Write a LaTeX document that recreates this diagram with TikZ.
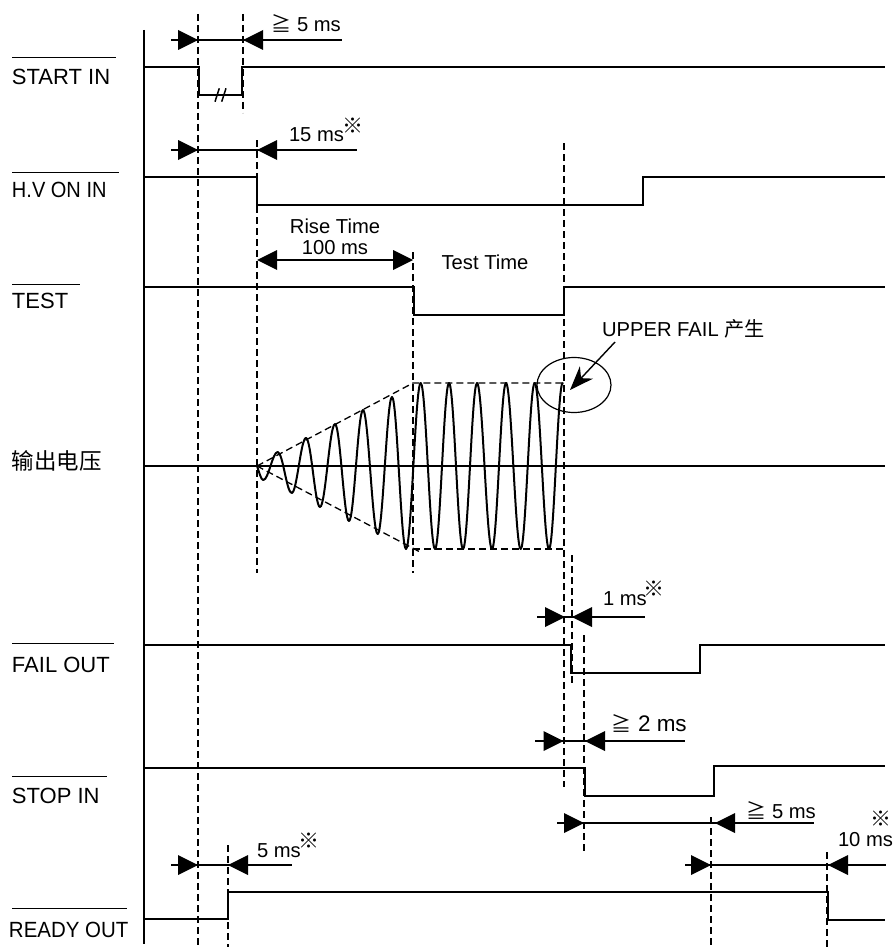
\documentclass[tikz,border=0pt]{standalone}
\usepackage{fontspec}
\setmainfont{Liberation Sans}
\newfontfamily\cjk{Noto Sans CJK SC}
\usetikzlibrary{arrows.meta}
\tikzset{
  signal/.style={line width=2pt,line join=miter},
  axisline/.style={line width=2.4pt},
  guide/.style={line width=1.2pt,dash pattern=on 7pt off 4pt},
  envelope/.style={line width=1.3pt,dash pattern=on 7pt off 4pt},
  dimline/.style={line width=1.6pt},
  tiptri/.style={fill=black,draw=none},
  barline/.style={line width=0.9pt},
  lbl/.style={inner sep=0pt,outer sep=0pt,anchor=base west,font=\fontsize{22}{24}\selectfont},
  small/.style={inner sep=0pt,outer sep=0pt,anchor=base west,font=\fontsize{20.2}{22}\selectfont},
  cmark/.style={inner sep=0pt,outer sep=0pt,anchor=center,font=\cjk\fontsize{21}{23}\selectfont},
}
% inward-pointing dimension row: y, line start, line end, left tip, right tip
\newcommand{\dimrow}[5]{%
  \draw[dimline] (#2,#1) -- (#3,#1);
  \fill[tiptri] (#4,#1) -- ({#4-20},{#1-10}) -- ({#4-20},{#1+10}) -- cycle;
  \fill[tiptri] (#5,#1) -- ({#5+20},{#1-10}) -- ({#5+20},{#1+10}) -- cycle;
}
\begin{document}
\begin{tikzpicture}[x=1pt,y=-1pt]
\useasboundingbox (0,0) rectangle (895,947);

% guides
\draw[guide] (198,14) -- (198,947);
\draw[guide] (243,14) -- (243,113);
\draw[guide] (257,140) -- (257,573);
\draw[guide] (413,252) -- (413,573);
\draw[guide] (564,143) -- (564,787);
\draw[guide] (572,555) -- (572,685);
\draw[guide] (584,635) -- (584,853);
\draw[guide] (228,845) -- (228,947);
\draw[guide] (711,817) -- (711,947);
\draw[guide] (827,852) -- (827,947);

% axis
\draw[axisline] (144,30) -- (144,944);

% signals
\draw[signal] (144,67) -- (199,67) -- (199,95) -- (242,95) -- (242,67) -- (885,67);
\draw[signal] (144,177) -- (257,177) -- (257,205) -- (643,205) -- (643,177) -- (885,177);
\draw[signal] (144,287) -- (414,287) -- (414,315) -- (564,315) -- (564,287) -- (885,287);
\draw[signal] (144,466) -- (885,466);
\draw[signal] (144,645) -- (571,645) -- (571,673) -- (700,673) -- (700,645) -- (885,645);
\draw[signal] (144,768) -- (585,768) -- (585,796) -- (714,796) -- (714,766) -- (885,766);
\draw[signal] (144,919) -- (228,919) -- (228,892) -- (828,892) -- (828,920) -- (885,920);

% break mark
\draw[line width=1.5pt] (215,101.7) -- (219.3,88.3);
\draw[line width=1.5pt] (221.7,101.7) -- (226,88.3);

% envelope
\draw[envelope] (257,466) -- (413,383) -- (564,383);
\draw[envelope] (257,466) -- (420,552);
\draw[envelope] (413,549) -- (564,549);

% output wave
\draw[signal,line cap=round] (257,466) .. controls (259.5,473) and (261,480) .. (263.3,480);
\foreach \x/\y [remember=\x as \px (initially 263.3), remember=\y as \py (initially 480)] in
  {277.7/452,291.7/493,306/438,320/507,335/424,349/521,363/410,377.7/534,392/397,406/549,
   420.7/383,435/549,449/383,463/549,477/383,492/549,506/383,520.7/549,534.7/383,549/549,562.7/383}
  {\draw[signal,line cap=round] (\px,\py) .. controls ({\px+0.3642*(\x-\px)},\py) and ({\x-0.3642*(\x-\px)},\y) .. (\x,\y);}

% dimension rows
\dimrow{40}{171}{342}{198}{243}
\dimrow{150}{171}{357}{198}{257}
\dimrow{617}{537}{645}{565}{572}
\dimrow{741}{535}{685}{563.5}{585}
\dimrow{823}{557}{814}{584}{715}
\dimrow{865}{685}{886}{711}{828}
\dimrow{865}{171}{292}{198}{228}
% rise time (outward)
\draw[dimline] (270,260) -- (400,260);
\fill[tiptri] (257,260) -- (277,250) -- (277,270) -- cycle;
\fill[tiptri] (413,260) -- (393,250) -- (393,270) -- cycle;

% labels on the left
\node[lbl] (startin) at (12,85) {START IN};
\node[lbl] (hvon) at (12,197) {\scalebox{0.91}[1]{H.V ON IN}};
\node[lbl] (test) at (12,308) {TEST};
\node[lbl,font=\cjk\fontsize{22.5}{24}\selectfont] (vout) at (12,469) {输出电压};
\node[lbl] (failout) at (12,672) {FAIL OUT};
\node[lbl] (stopin) at (12,803) {STOP IN};
\node[lbl] (readyout) at (9,937) {\scalebox{0.93}[1]{READY OUT}};
\draw[barline] (12,57) -- (116,57);
\draw[barline] (12,172) -- (119,172);
\draw[barline] (12,284) -- (80,284);
\draw[barline] (12,643) -- (114,643);
\draw[barline] (12,776) -- (107,776);
\draw[barline] (12,908) -- (127,908);

% timing labels
\node[small,font=\cjk\fontsize{20}{22}\selectfont] (ge1) at (271,32) {≧};
\node[small] (t1) at (297,32) {5 ms};
\node[small] (t2) at (289,142) {15 ms};
\node[cmark] (m2) at (353,126) {※};
\node[small,anchor=base] (rise) at (335,233) {Rise Time};
\node[small,anchor=base] (rise2) at (335,254) {100 ms};
\node[small,anchor=base] (testtime) at (485,269) {Test Time};
\node[small] (upper) at (602,336) {UPPER FAIL {\cjk 产生}};
\node[small] (t3) at (603,605) {1 ms};
\node[cmark] (m3) at (654,589) {※};
\node[small,font=\cjk\fontsize{20}{22}\selectfont] (ge2) at (611,731) {≧};
\node[small,font=\fontsize{22.5}{24}\selectfont] (t4) at (638,731) {2 ms};
\node[small,font=\cjk\fontsize{20}{22}\selectfont] (ge3) at (746,818) {≧};
\node[small] (t5) at (772,818) {5 ms};
\node[cmark] (m5) at (881,819) {※};
\node[small] (t6) at (838,846) {10 ms};
\node[small] (t7) at (257,857) {5 ms};
\node[cmark] (m7) at (309,841) {※};

% circled event
\draw[line width=1.2pt] (574,385) ellipse [x radius=37,y radius=27.5];
\coordinate (hit) at (570,390);
\draw[line width=1.4pt,-{Stealth[length=24pt,width=18pt]}] (615,342) -- (hit);
\end{tikzpicture}
\end{document}
